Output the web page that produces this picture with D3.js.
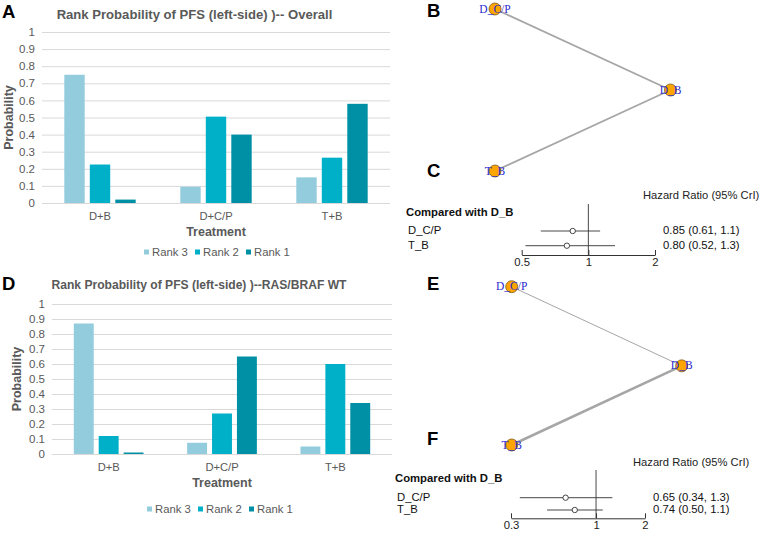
<!DOCTYPE html>
<html>
<head>
<meta charset="utf-8">
<script src="https://cdn.jsdelivr.net/npm/d3@7"></script>
<style>
  body { margin: 0; background: #fff; }
  svg { display: block; font-family: "Liberation Sans", Arial, sans-serif; }
</style>
</head>
<body>
<svg width="761" height="536"></svg>
<script>
// rank probability data
const treatments = ["D+B", "D+C/P", "T+B"];
const rankNames = ["Rank 3", "Rank 2", "Rank 1"];
const probTicks = [0, 0.1, 0.2, 0.3, 0.4, 0.5, 0.6, 0.7, 0.8, 0.9, 1];

// Overall (panel A), one array per rank
const overallRank3 = [0.75, 0.095, 0.15];
const overallRank2 = [0.225, 0.505, 0.265];
const overallRank1 = [0.02, 0.40, 0.58];

// RAS/BRAF WT (panel D)
const wtRank3 = [0.87, 0.075, 0.05];
const wtRank2 = [0.12, 0.27, 0.60];
const wtRank1 = [0.01, 0.65, 0.34];

// network nodes (layout units) and edges with number of studies
const netNodes = ["D_C/P", "D_B", "T_B"];
const netLayoutX = [0, 1, 0];
const netLayoutY = [0, 0.5, 1];
const netEdges = [["D_C/P", "D_B"], ["T_B", "D_B"]];
const overallStudies = [2, 2];
const wtStudies = [1, 3];

// forest plots, hazard ratio vs D_B
const forestRows = ["D_C/P", "T_B"];
const overallHR = [0.85, 0.80];
const overallLo = [0.61, 0.52];
const overallHi = [1.13, 1.32];
const overallText = ["0.85 (0.61, 1.1)", "0.80 (0.52, 1.3)"];
const overallTicks = [0.5, 1, 2];

const wtHR = [0.65, 0.74];
const wtLo = [0.34, 0.50];
const wtHi = [1.26, 1.1];
const wtText = ["0.65 (0.34, 1.3)", "0.74 (0.50, 1.1)"];
const wtTicks = [0.3, 1, 2];

const rankColors = ["#93cddd", "#00b0c8", "#0090a6"];
const greyText = "#595959";

const svg = d3.select("svg");
svg.append("rect").attr("width", 761).attr("height", 536).attr("fill", "#fff");

function drawRankChart(opt) {
    const g = svg.append("g");
    const y = d3.scaleLinear().domain([0, 1]).range([opt.bottom, opt.top]);
    const x0 = d3.scaleBand().domain(treatments).range([opt.left, opt.right]).padding(0);
    const x1 = d3.scaleBand().domain(rankNames).range([0, x0.bandwidth()])
        .paddingInner(0.2).paddingOuter(0.875);
    const color = d3.scaleOrdinal().domain(rankNames).range(rankColors);

    // gridlines + tick labels
    const yAxis = d3.axisLeft(y).tickValues(probTicks).tickFormat(d3.format("~g"))
        .tickSize(-(opt.right - opt.left)).tickPadding(7);
    const ya = g.append("g").attr("transform", `translate(${opt.left},0)`).call(yAxis);
    ya.select(".domain").remove();
    ya.selectAll("line").attr("stroke", "#d9d9d9");
    ya.selectAll("text").attr("fill", greyText).style("font-size", "11.5px");

    // bars
    const series = opt.series;
    treatments.forEach((t, i) => {
        rankNames.forEach((r, j) => {
            g.append("rect")
                .attr("x", x0(t) + x1(r))
                .attr("y", y(series[j][i]))
                .attr("width", x1.bandwidth())
                .attr("height", y(0) - y(series[j][i]))
                .attr("fill", color(r));
        });
    });

    // category labels
    const xAxis = d3.axisBottom(x0).tickSize(0).tickPadding(9);
    const xa = g.append("g").attr("transform", `translate(0,${opt.bottom})`).call(xAxis);
    xa.select(".domain").remove();
    xa.selectAll("text").attr("fill", greyText).style("font-size", "11.2px");

    g.append("text").text("Treatment")
        .attr("x", (opt.left + opt.right) / 2).attr("y", opt.bottom + 33)
        .attr("text-anchor", "middle").attr("fill", greyText)
        .style("font-size", "12.5px").style("font-weight", "bold");

    g.append("text").text("Probability")
        .attr("transform", `translate(${opt.ylabX},${(opt.top + opt.bottom) / 2}) rotate(-90)`)
        .attr("text-anchor", "middle").attr("fill", greyText)
        .style("font-size", "12.5px").style("font-weight", "bold");

    g.append("text").text(opt.title)
        .attr("x", opt.titleX).attr("y", opt.titleY)
        .attr("text-anchor", "middle").attr("fill", greyText)
        .style("font-size", opt.titleSize).style("font-weight", "bold");

    // legend
    const lg = g.append("g").attr("transform", `translate(${opt.legendX},${opt.legendY})`);
    const step = 51;
    rankNames.forEach((r, j) => {
        lg.append("rect").attr("x", j * step).attr("y", -2.5).attr("width", 5).attr("height", 5)
            .attr("fill", color(r));
        lg.append("text").text(r).attr("x", j * step + 8).attr("y", 4)
            .attr("fill", greyText).style("font-size", "11.3px");
    });
}

function drawNetwork(opt) {
    const g = svg.append("g");
    const x = d3.scaleLinear().domain([0, 1]).range([opt.x0, opt.x1]);
    const y = d3.scaleLinear().domain([0, 1]).range([opt.y0, opt.y1]);
    const w = d3.scaleLinear().domain([1, 3]).range([1, 2.6]);
    const pos = {};
    netNodes.forEach((n, i) => pos[n] = [x(netLayoutX[i]), y(netLayoutY[i])]);

    netEdges.forEach((e, i) => {
        g.append("line")
            .attr("x1", pos[e[0]][0]).attr("y1", pos[e[0]][1])
            .attr("x2", pos[e[1]][0]).attr("y2", pos[e[1]][1])
            .attr("stroke", "#a6a6a6").attr("stroke-width", w(opt.studies[i]));
    });
    netNodes.forEach(n => {
        g.append("circle").attr("cx", pos[n][0]).attr("cy", pos[n][1]).attr("r", 6)
            .attr("fill", "#ffa500").attr("stroke", "#7a5a20").attr("stroke-width", 0.8);
        g.append("text").text(n).attr("x", pos[n][0]).attr("y", pos[n][1] + 3.5)
            .attr("text-anchor", "middle").attr("fill", "#2a2ad0")
            .style("font-family", "'Liberation Serif', serif").style("font-size", "11.5px");
    });
}

function drawForest(opt) {
    const g = svg.append("g");
    const x = d3.scaleLog().domain([opt.ticks[0], opt.ticks[opt.ticks.length - 1]])
        .range([opt.xLeft, opt.xRight]);
    const y = d3.scalePoint().domain(forestRows).range([opt.row0, opt.row1]);

    g.append("text").text("Hazard Ratio (95% CrI)")
        .attr("x", opt.hrX).attr("y", opt.hrY).attr("fill", "#222").style("font-size", "11.2px");
    g.append("text").text("Compared with D_B")
        .attr("x", opt.labelX - 2).attr("y", opt.cmpY).attr("fill", "#111")
        .style("font-size", "11.3px").style("font-weight", "bold");

    // reference line at HR = 1
    g.append("line").attr("x1", x(1)).attr("x2", x(1))
        .attr("y1", opt.refTop).attr("y2", opt.axisY).attr("stroke", "#333").attr("stroke-width", 0.9);

    // bottom axis, ticks pointing up
    const ax = d3.axisBottom(x).tickValues(opt.ticks).tickFormat(d3.format("~g"))
        .tickSizeInner(-5).tickSizeOuter(0).tickPadding(4);
    const a = g.append("g").attr("transform", `translate(0,${opt.axisY})`).call(ax);
    a.select(".domain").attr("stroke", "#333");
    a.selectAll("line").attr("stroke", "#333");
    a.selectAll("text").attr("fill", "#222").style("font-size", "11.3px")
        .attr("dy", "0.9em").attr("y", 1);

    forestRows.forEach((r, i) => {
        g.append("line").attr("x1", x(opt.lo[i])).attr("x2", x(opt.hi[i]))
            .attr("y1", y(r)).attr("y2", y(r)).attr("stroke", "#333").attr("stroke-width", 0.9);
        g.append("circle").attr("cx", x(opt.hr[i])).attr("cy", y(r)).attr("r", 2.7)
            .attr("fill", "#fff").attr("stroke", "#333").attr("stroke-width", 0.9);
        g.append("text").text(r).attr("x", opt.labelX).attr("y", y(r) + 3)
            .attr("fill", "#111").style("font-size", "11.3px");
        g.append("text").text(opt.text[i]).attr("x", opt.valX).attr("y", y(r) + 3)
            .attr("fill", "#111").style("font-size", "11.3px");
    });
}

drawRankChart({
    series: [overallRank3, overallRank2, overallRank1],
    left: 42, right: 390, top: 32, bottom: 203,
    title: "Rank Probability of PFS (left-side) )-- Overall", titleX: 194.5, titleY: 18.5, titleSize: "13.1px",
    ylabX: 13, legendX: 144, legendY: 252
});
drawRankChart({
    series: [wtRank3, wtRank2, wtRank1],
    left: 52, right: 392, top: 304, bottom: 454,
    title: "Rank Probability of PFS (left-side) )--RAS/BRAF WT", titleX: 199, titleY: 289, titleSize: "12.1px",
    ylabX: 21, legendX: 147, legendY: 509
});

drawNetwork({ x0: 495, x1: 670.5, y0: 9, y1: 171, studies: overallStudies });
drawNetwork({ x0: 511.7, x1: 681.7, y0: 286.7, y1: 445, studies: wtStudies });

drawForest({
    hr: overallHR, lo: overallLo, hi: overallHi, text: overallText, ticks: overallTicks,
    xLeft: 521.7, xRight: 655, row0: 231, row1: 245.7, axisY: 255, refTop: 204,
    labelX: 408, cmpY: 216, hrX: 643, hrY: 199, valX: 663
});
drawForest({
    hr: wtHR, lo: wtLo, hi: wtHi, text: wtText, ticks: wtTicks,
    xLeft: 511, xRight: 645, row0: 497.7, row1: 510, axisY: 518.3, refTop: 470,
    labelX: 397, cmpY: 482, hrX: 633, hrY: 466, valX: 653
});

// panel letters
const letters = [["A", 2, 18], ["B", 427, 17], ["C", 427, 177], ["D", 2, 290], ["E", 427, 290], ["F", 427, 445]];
letters.forEach(l => {
    svg.append("text").text(l[0]).attr("x", l[1]).attr("y", l[2])
        .attr("fill", "#000").style("font-size", "18.5px").style("font-weight", "bold");
});
</script>
</body>
</html>
